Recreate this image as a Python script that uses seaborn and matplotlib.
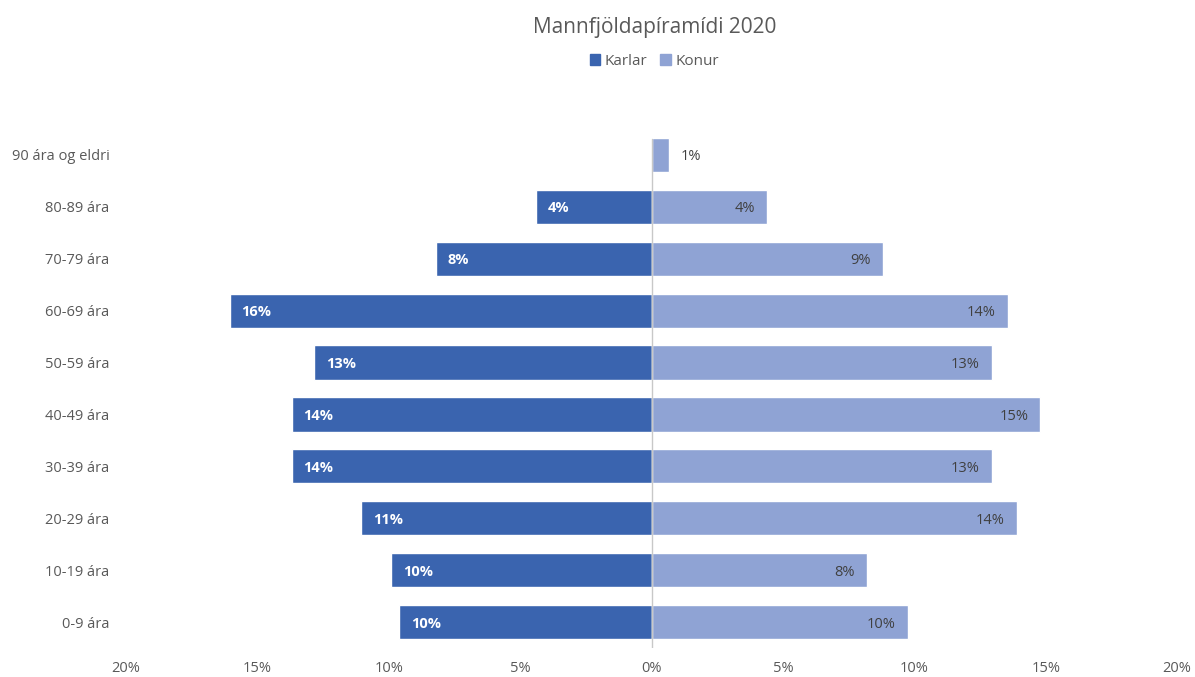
import matplotlib
matplotlib.use("Agg")
import matplotlib.pyplot as plt
import seaborn as sns
import pandas as pd
from matplotlib.patches import Patch

ages = ["90 ára og eldri", "80-89 ára", "70-79 ára", "60-69 ára", "50-59 ára",
        "40-49 ára", "30-39 ára", "20-29 ára", "10-19 ára", "0-9 ára"]
karlar = [0.0, 4.4, 8.2, 16.05, 12.85, 13.7, 13.7, 11.05, 9.9, 9.6]
konur = [0.65, 4.4, 8.8, 13.55, 12.95, 14.8, 12.95, 13.9, 8.2, 9.75]
karlar_labels = ["", "4%", "8%", "16%", "13%", "14%", "14%", "11%", "10%", "10%"]
konur_labels = ["1%", "4%", "9%", "14%", "13%", "15%", "13%", "14%", "8%", "10%"]
xticks = [-20, -15, -10, -5, 0, 5, 10, 15, 20]
xticklabels = ["20%", "15%", "10%", "5%", "0%", "5%", "10%", "15%", "20%"]

c_men = "#3A64AF"
c_women = "#8FA3D4"

sns.set_theme(style="white")
plt.rcParams['font.family'] = ['Open Sans', 'DejaVu Sans']

rows = []
for a, m, w in zip(ages, karlar, konur):
    rows.append({"age": a, "sex": "Karlar", "val": -m})
    rows.append({"age": a, "sex": "Konur", "val": w})
df = pd.DataFrame(rows)

fig = plt.figure(figsize=(11.95, 6.77), dpi=100)
ax = fig.add_axes([0.1054, 0.0428, 0.8796, 0.7667])

sns.barplot(data=df, y="age", x="val", hue="sex", order=ages, hue_order=["Karlar", "Konur"],
            palette={"Karlar": c_men, "Konur": c_women}, dodge=False, width=0.66,
            orient="h", ax=ax, legend=False, saturation=1)

ax.set_xlim(-20, 20)
ax.set_ylim(len(ages) - 0.5, -0.5)
ax.axvline(0, color="#C8C8C8", lw=1, ymin=0.0, ymax=0.98, zorder=3)

off = 0.45
for i, (m, ml) in enumerate(zip(karlar, karlar_labels)):
    if ml:
        ax.text(-m + off, i, ml, color="white", fontweight="bold", fontsize=10.5,
                ha="left", va="center_baseline")
for i, (w, wl) in enumerate(zip(konur, konur_labels)):
    if w < 2:
        ax.text(w + off, i, wl, color="#404040", fontsize=10.5, ha="left", va="center_baseline")
    else:
        ax.text(w - off, i, wl, color="#404040", fontsize=10.5, ha="right", va="center_baseline")

ax.set_xticks(xticks)
ax.set_xticklabels(xticklabels)
ax.set_xlabel("")
ax.set_ylabel("")
ax.tick_params(axis="x", labelsize=10.5, colors="#595959", pad=9, length=0)
ax.tick_params(axis="y", labelsize=10.5, colors="#595959", pad=12, length=0)
for s in ax.spines.values():
    s.set_visible(False)

fig.text(0.5475, 0.96, "Mannfjöldapíramídi 2020", ha="center", va="center",
         fontsize=15, color="#595959")
handles = [Patch(color=c_men, label="Karlar"), Patch(color=c_women, label="Konur")]
fig.legend(handles=handles, loc="center", bbox_to_anchor=(0.5475, 0.909), ncol=2,
           frameon=False, fontsize=11, handlelength=0.7, handleheight=0.7,
           handletextpad=0.3, columnspacing=0.8, labelcolor="#595959")

fig.savefig("out.png", dpi=100)
